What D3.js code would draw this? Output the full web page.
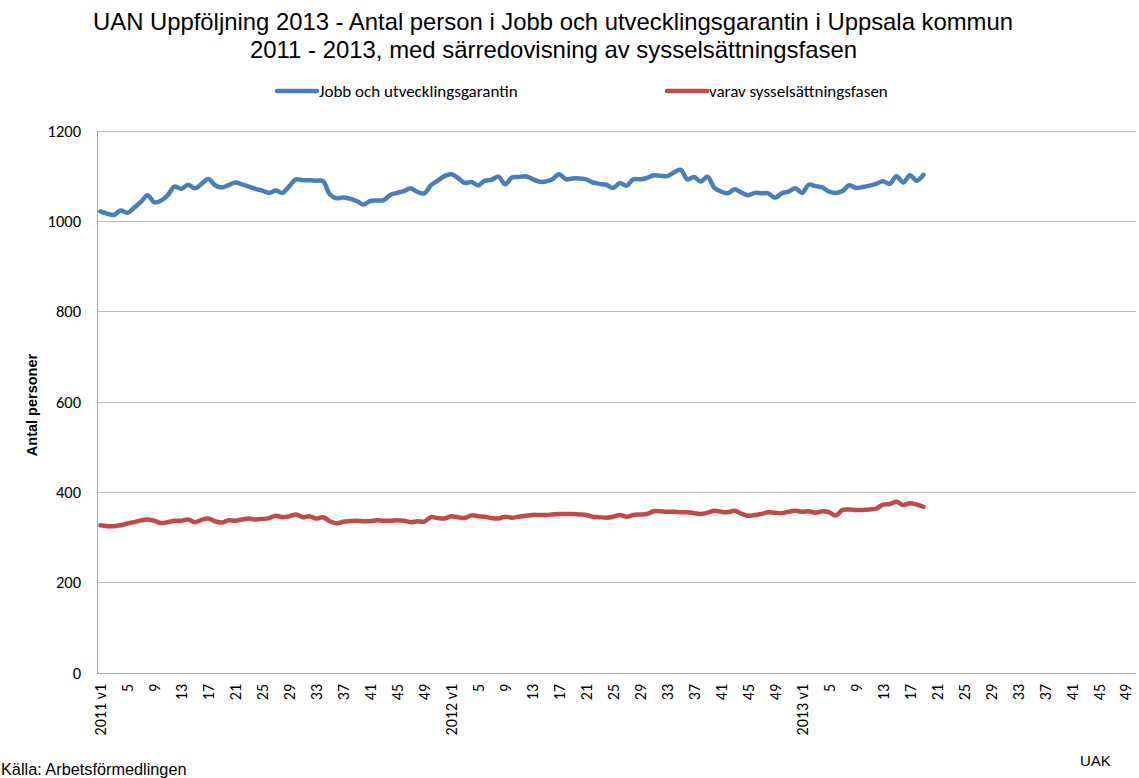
<!DOCTYPE html>
<html><head><meta charset="utf-8">
<script src="https://cdn.jsdelivr.net/npm/d3@7"></script>
<style>body{margin:0;background:#fff}svg{display:block}</style>
</head><body>
<svg id="c" width="1139" height="778"></svg>
<script>
const years = ["2011", "2012", "2013"];
const weeksPerYear = [52, 52, 50];
const yTicks = [0, 200, 400, 600, 800, 1000, 1200];
const seriesNames = ["Jobb och utvecklingsgarantin", "varav sysselsättningsfasen"];
const jobbValues = [
 1022,1017,1014,1024,1019,1030,1043,1058,1042,1046,1058,1077,1072,1081,1073,1083,1094,1080,1075,1080,
 1086,1082,1077,1072,1068,1063,1068,1063,1078,1093,1091,1091,1090,1089,1060,1051,1053,1050,1045,1037,
 1045,1046,1047,1059,1063,1067,1073,1065,1062,1080,1090,1100,
 1104,1096,1085,1087,1080,1090,1092,1099,1082,1097,1098,1100,1094,1088,1088,1093,1104,1093,1095,1095,
 1093,1086,1083,1081,1074,1085,1079,1093,1093,1096,1102,1101,1100,1108,1114,1093,1098,1088,1099,1074,
 1066,1062,1071,1064,1058,1063,1062,1062,1052,1062,1066,1073,
 1063,1081,1078,1075,1066,1063,1067,1080,1074,1076,1079,1083,1089,1083,1100,1086,1102,1090,1103
];
const sysselValues = [
 327,325,325,327,331,334,338,340,337,332,334,337,337,340,334,339,342,336,333,338,
 337,340,342,340,341,343,348,345,347,351,345,347,342,345,336,331,335,336,337,336,
 336,338,337,337,338,337,334,336,335,345,343,342,
 347,345,343,349,347,346,343,342,346,344,346,348,350,350,350,351,352,352,352,351,
 350,346,345,344,346,350,346,350,351,352,358,358,357,357,356,356,354,352,355,359,
 357,356,359,353,348,350,352,356,355,354,357,359,
 357,358,355,358,356,349,361,362,361,361,362,364,373,374,379,372,376,373,368
];
const colors = ["#4a7ebb", "#be4b48"];

// categories: one per week
const categories = [];
years.forEach((y, yi) => { for (let w = 1; w <= weeksPerYear[yi]; w++) categories.push({year: y, week: w, key: y + "-" + w}); });
const catLabel = c => c.week === 1 ? c.year + " v1" : String(c.week);

const svg = d3.select("#c");
const L = 97, R = 1136, T = 131, B = 673;
const x = d3.scaleBand().domain(categories.map(c => c.key)).range([L, R]);
const y = d3.scaleLinear().domain([0, 1200]).range([B, T]);
const cx = i => x(categories[i].key) + x.bandwidth() / 2;

// gridlines
svg.append("g").selectAll("line").data(yTicks.filter(v => v > 0)).join("line")
  .attr("x1", L).attr("x2", R).attr("y1", d => y(d)).attr("y2", d => y(d))
  .attr("stroke", "#b9b9b9").attr("stroke-width", 1).attr("shape-rendering", "crispEdges");
// axes lines
svg.append("line").attr("x1", L).attr("x2", L).attr("y1", T).attr("y2", B)
  .attr("stroke", "#a6a6a6").attr("shape-rendering", "crispEdges");
svg.append("line").attr("x1", L).attr("x2", R).attr("y1", B).attr("y2", B)
  .attr("stroke", "#a6a6a6").attr("shape-rendering", "crispEdges");

const calib = "Carlito, Lato, 'Open Sans', sans-serif";
// y tick labels
svg.append("g").selectAll("text").data(yTicks).join("text")
  .attr("x", 81).attr("y", d => y(d)).attr("dy", "0.35em")
  .attr("text-anchor", "end").attr("font-family", calib).attr("font-size", 16.5).attr("fill", "#000")
  .text(d => d);

// x tick labels
svg.append("g").selectAll("text").data(categories.filter((c, i) => i % 4 === 0)).join("text")
  .attr("transform", d => `translate(${x(d.key) + x.bandwidth() / 2},684) rotate(-90)`)
  .attr("dy", "0.35em").attr("text-anchor", "end")
  .attr("font-family", calib).attr("font-size", 16).attr("fill", "#000")
  .text(catLabel);

// y axis title
svg.append("text").attr("transform", "translate(32,405) rotate(-90)").attr("dy", "0.35em")
  .attr("text-anchor", "middle").attr("font-family", "'Liberation Sans', Arial, sans-serif")
  .attr("font-weight", "bold").attr("font-size", 14.5).text("Antal personer");

// lines
const line = d3.line().x((d, i) => cx(i)).y(d => y(d)).curve(d3.curveCatmullRom.alpha(0.5));
[jobbValues, sysselValues].forEach((vals, k) => {
  svg.append("path").datum(vals).attr("d", line).attr("fill", "none")
    .attr("stroke", colors[k]).attr("stroke-width", 4.5).attr("stroke-linejoin", "round").attr("stroke-linecap", "round");
});

// legend
const legX = [277, 667];
seriesNames.forEach((n, k) => {
  svg.append("line").attr("x1", legX[k]).attr("x2", legX[k] + 40).attr("y1", 91).attr("y2", 91)
    .attr("stroke", colors[k]).attr("stroke-width", 4.5).attr("stroke-linecap", "round");
  svg.append("text").attr("x", legX[k] + 42).attr("y", 91).attr("dy", "0.35em")
    .attr("font-family", calib).attr("font-size", 17).text(n);
});

// title
const titleFont = "'Liberation Sans', Arial, sans-serif";
svg.append("text").attr("x", 93).attr("y", 30).attr("font-family", titleFont).attr("font-size", 24)
  .attr("textLength", 920).attr("lengthAdjust", "spacingAndGlyphs")
  .text("UAN Uppföljning 2013 - Antal person i Jobb och utvecklingsgarantin i Uppsala kommun");
svg.append("text").attr("x", 250).attr("y", 58).attr("font-family", titleFont).attr("font-size", 24)
  .attr("textLength", 607).attr("lengthAdjust", "spacingAndGlyphs")
  .text("2011 - 2013, med särredovisning av sysselsättningsfasen");

// footer
svg.append("text").attr("x", 1).attr("y", 775).attr("font-family", titleFont).attr("font-size", 16.3)
  .text("Källa: Arbetsförmedlingen");
svg.append("text").attr("x", 1080).attr("y", 766).attr("font-family", titleFont).attr("font-size", 15)
  .text("UAK");
</script>
</body></html>
